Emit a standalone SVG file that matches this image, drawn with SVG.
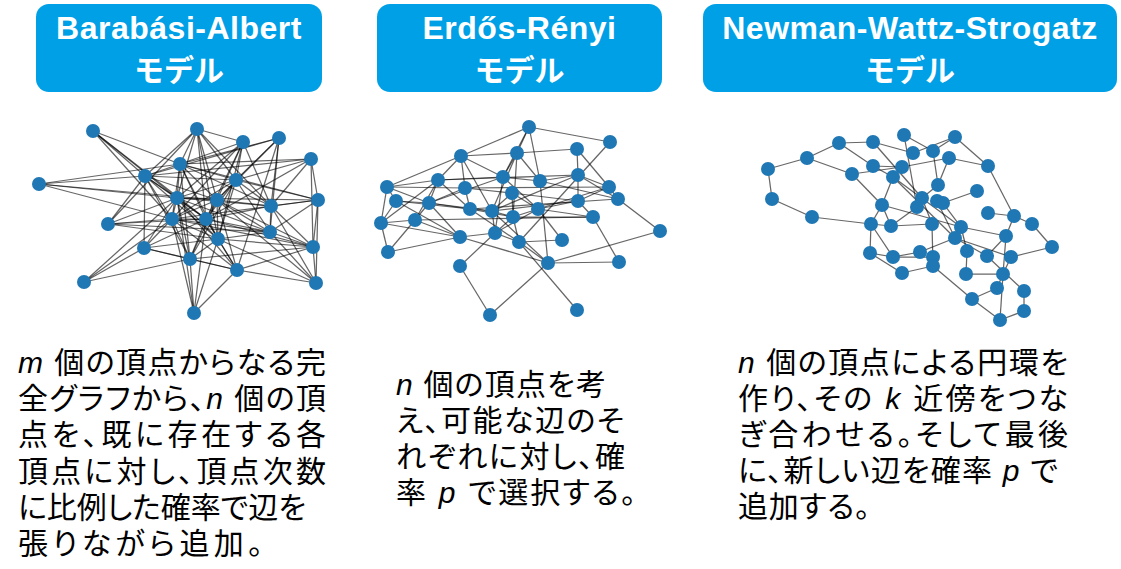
<svg xmlns="http://www.w3.org/2000/svg" width="1121" height="569" viewBox="0 0 1121 569">
<style>
.hbox{fill:#00A0E6}
.ht{font-family:"Liberation Sans","Noto Sans CJK JP",sans-serif;font-weight:bold;font-size:32px;fill:#fff;text-anchor:middle;letter-spacing:0.5px}
.hj{font-family:"Noto Sans CJK JP",sans-serif;font-size:30px;letter-spacing:0}
.bt{font-family:"Liberation Sans","Noto Sans CJK JP",sans-serif;font-size:30px;fill:#000;font-feature-settings:"palt"}
.it{font-style:italic}
.e line{stroke:#000;stroke-opacity:0.6;stroke-width:1.25}
.n circle{fill:#1f77b4}
</style>
<g id="header-ba"><rect class="hbox" x="36" y="4" width="286" height="88" rx="13"/><text class="ht"><tspan x="179" y="39">Barabási-Albert</tspan><tspan class="hj" x="179" y="81">モデル</tspan></text></g>
<g id="header-er"><rect class="hbox" x="377" y="4" width="285" height="88" rx="13"/><text class="ht"><tspan x="519.5" y="39">Erdős-Rényi</tspan><tspan class="hj" x="519.5" y="81">モデル</tspan></text></g>
<g id="header-nws"><rect class="hbox" x="703" y="4" width="414" height="88" rx="13"/><text class="ht"><tspan x="910" y="39">Newman-Wattz-Strogatz</tspan><tspan class="hj" x="910" y="81">モデル</tspan></text></g>

<g id="graph-ba">
<g class="e" id="ba-edges">
<line x1="93" y1="131" x2="145" y2="176"/><line x1="93" y1="131" x2="180" y2="164"/><line x1="93" y1="131" x2="177" y2="198"/><line x1="93" y1="131" x2="172" y2="219"/><line x1="93" y1="131" x2="206" y2="219"/>
<line x1="197" y1="129" x2="243" y2="142"/><line x1="197" y1="129" x2="180" y2="164"/><line x1="197" y1="129" x2="145" y2="176"/><line x1="197" y1="129" x2="177" y2="198"/><line x1="197" y1="129" x2="217" y2="200"/><line x1="197" y1="129" x2="236" y2="180"/><line x1="197" y1="129" x2="206" y2="219"/><line x1="197" y1="129" x2="218" y2="239"/><line x1="197" y1="129" x2="108" y2="224"/><line x1="197" y1="129" x2="271" y2="206"/>
<line x1="243" y1="142" x2="180" y2="164"/><line x1="243" y1="142" x2="236" y2="180"/><line x1="243" y1="142" x2="177" y2="198"/><line x1="243" y1="142" x2="217" y2="200"/><line x1="243" y1="142" x2="172" y2="219"/><line x1="243" y1="142" x2="206" y2="219"/><line x1="243" y1="142" x2="218" y2="239"/><line x1="243" y1="142" x2="271" y2="206"/>
<line x1="279" y1="138" x2="180" y2="164"/><line x1="279" y1="138" x2="145" y2="176"/><line x1="279" y1="138" x2="236" y2="180"/><line x1="279" y1="138" x2="217" y2="200"/><line x1="279" y1="138" x2="271" y2="206"/><line x1="279" y1="138" x2="270" y2="232"/><line x1="279" y1="138" x2="237" y2="270"/>
<line x1="311" y1="159" x2="180" y2="164"/><line x1="311" y1="159" x2="145" y2="176"/><line x1="311" y1="159" x2="236" y2="180"/><line x1="311" y1="159" x2="271" y2="206"/><line x1="311" y1="159" x2="318" y2="200"/><line x1="311" y1="159" x2="206" y2="219"/><line x1="311" y1="159" x2="313" y2="247"/>
<line x1="180" y1="164" x2="145" y2="176"/><line x1="180" y1="164" x2="236" y2="180"/><line x1="180" y1="164" x2="177" y2="198"/><line x1="180" y1="164" x2="217" y2="200"/><line x1="180" y1="164" x2="318" y2="200"/><line x1="180" y1="164" x2="271" y2="206"/><line x1="180" y1="164" x2="172" y2="219"/><line x1="180" y1="164" x2="206" y2="219"/><line x1="180" y1="164" x2="218" y2="239"/><line x1="180" y1="164" x2="190" y2="259"/>
<line x1="145" y1="176" x2="236" y2="180"/><line x1="145" y1="176" x2="177" y2="198"/><line x1="145" y1="176" x2="217" y2="200"/><line x1="145" y1="176" x2="172" y2="219"/><line x1="145" y1="176" x2="206" y2="219"/><line x1="145" y1="176" x2="144" y2="248"/><line x1="145" y1="176" x2="108" y2="224"/><line x1="145" y1="176" x2="218" y2="239"/><line x1="145" y1="176" x2="190" y2="259"/>
<line x1="236" y1="180" x2="177" y2="198"/><line x1="236" y1="180" x2="217" y2="200"/><line x1="236" y1="180" x2="271" y2="206"/><line x1="236" y1="180" x2="318" y2="200"/><line x1="236" y1="180" x2="172" y2="219"/><line x1="236" y1="180" x2="206" y2="219"/><line x1="236" y1="180" x2="270" y2="232"/><line x1="236" y1="180" x2="218" y2="239"/><line x1="236" y1="180" x2="190" y2="259"/>
<line x1="39" y1="184" x2="145" y2="176"/><line x1="39" y1="184" x2="180" y2="164"/><line x1="39" y1="184" x2="177" y2="198"/><line x1="39" y1="184" x2="172" y2="219"/><line x1="39" y1="184" x2="217" y2="200"/>
<line x1="177" y1="198" x2="217" y2="200"/><line x1="177" y1="198" x2="271" y2="206"/><line x1="177" y1="198" x2="318" y2="200"/><line x1="177" y1="198" x2="172" y2="219"/><line x1="177" y1="198" x2="206" y2="219"/><line x1="177" y1="198" x2="218" y2="239"/><line x1="177" y1="198" x2="144" y2="248"/><line x1="177" y1="198" x2="190" y2="259"/><line x1="177" y1="198" x2="237" y2="270"/><line x1="177" y1="198" x2="270" y2="232"/><line x1="177" y1="198" x2="108" y2="224"/>
<line x1="217" y1="200" x2="271" y2="206"/><line x1="217" y1="200" x2="172" y2="219"/><line x1="217" y1="200" x2="206" y2="219"/><line x1="217" y1="200" x2="270" y2="232"/><line x1="217" y1="200" x2="218" y2="239"/><line x1="217" y1="200" x2="313" y2="247"/><line x1="217" y1="200" x2="190" y2="259"/><line x1="217" y1="200" x2="237" y2="270"/><line x1="217" y1="200" x2="316" y2="283"/>
<line x1="271" y1="206" x2="318" y2="200"/><line x1="271" y1="206" x2="206" y2="219"/><line x1="271" y1="206" x2="270" y2="232"/><line x1="271" y1="206" x2="313" y2="247"/><line x1="271" y1="206" x2="316" y2="283"/>
<line x1="318" y1="200" x2="172" y2="219"/><line x1="318" y1="200" x2="270" y2="232"/><line x1="318" y1="200" x2="313" y2="247"/><line x1="318" y1="200" x2="316" y2="283"/>
<line x1="108" y1="224" x2="172" y2="219"/><line x1="108" y1="224" x2="206" y2="219"/><line x1="108" y1="224" x2="218" y2="239"/><line x1="108" y1="224" x2="270" y2="232"/>
<line x1="172" y1="219" x2="206" y2="219"/><line x1="172" y1="219" x2="270" y2="232"/><line x1="172" y1="219" x2="218" y2="239"/><line x1="172" y1="219" x2="144" y2="248"/><line x1="172" y1="219" x2="313" y2="247"/><line x1="172" y1="219" x2="190" y2="259"/><line x1="172" y1="219" x2="237" y2="270"/>
<line x1="206" y1="219" x2="270" y2="232"/><line x1="206" y1="219" x2="218" y2="239"/><line x1="206" y1="219" x2="144" y2="248"/><line x1="206" y1="219" x2="313" y2="247"/><line x1="206" y1="219" x2="190" y2="259"/><line x1="206" y1="219" x2="237" y2="270"/>
<line x1="270" y1="232" x2="218" y2="239"/><line x1="270" y1="232" x2="313" y2="247"/><line x1="270" y1="232" x2="316" y2="283"/>
<line x1="218" y1="239" x2="144" y2="248"/><line x1="218" y1="239" x2="313" y2="247"/><line x1="218" y1="239" x2="190" y2="259"/><line x1="218" y1="239" x2="237" y2="270"/><line x1="218" y1="239" x2="316" y2="283"/>
<line x1="144" y1="248" x2="190" y2="259"/><line x1="144" y1="248" x2="237" y2="270"/>
<line x1="313" y1="247" x2="190" y2="259"/><line x1="313" y1="247" x2="237" y2="270"/><line x1="313" y1="247" x2="316" y2="283"/>
<line x1="190" y1="259" x2="237" y2="270"/><line x1="190" y1="259" x2="194" y2="313"/>
<line x1="237" y1="270" x2="316" y2="283"/><line x1="237" y1="270" x2="194" y2="313"/>
<line x1="84" y1="282" x2="144" y2="248"/><line x1="84" y1="282" x2="172" y2="219"/><line x1="84" y1="282" x2="190" y2="259"/><line x1="84" y1="282" x2="177" y2="198"/>
<line x1="194" y1="313" x2="177" y2="198"/><line x1="194" y1="313" x2="172" y2="219"/><line x1="194" y1="313" x2="218" y2="239"/><line x1="194" y1="313" x2="206" y2="219"/>
</g>
<g class="n" id="ba-nodes">
<circle cx="93" cy="131" r="7"/><circle cx="197" cy="129" r="7"/><circle cx="243" cy="142" r="7"/><circle cx="279" cy="138" r="7"/><circle cx="311" cy="159" r="7"/><circle cx="180" cy="164" r="7"/><circle cx="145" cy="176" r="7"/><circle cx="236" cy="180" r="7"/><circle cx="39" cy="184" r="7"/><circle cx="177" cy="198" r="7"/><circle cx="217" cy="200" r="7"/><circle cx="271" cy="206" r="7"/><circle cx="318" cy="200" r="7"/><circle cx="108" cy="224" r="7"/><circle cx="172" cy="219" r="7"/><circle cx="206" cy="219" r="7"/><circle cx="270" cy="232" r="7"/><circle cx="218" cy="239" r="7"/><circle cx="144" cy="248" r="7"/><circle cx="313" cy="247" r="7"/><circle cx="190" cy="259" r="7"/><circle cx="237" cy="270" r="7"/><circle cx="84" cy="282" r="7"/><circle cx="316" cy="283" r="7"/><circle cx="194" cy="313" r="7"/>
</g>
</g>

<g id="graph-er">
<g class="e" id="er-edges">
<line x1="529" y1="127" x2="610" y2="142"/><line x1="529" y1="127" x2="461" y2="156"/><line x1="529" y1="127" x2="517" y2="153"/><line x1="529" y1="127" x2="503" y2="177"/><line x1="529" y1="127" x2="540" y2="181"/>
<line x1="610" y1="142" x2="519" y2="242"/>
<line x1="577" y1="149" x2="517" y2="153"/><line x1="577" y1="149" x2="578" y2="175"/><line x1="577" y1="149" x2="609" y2="187"/>
<line x1="461" y1="156" x2="517" y2="153"/><line x1="461" y1="156" x2="387" y2="187"/><line x1="461" y1="156" x2="438" y2="180"/><line x1="461" y1="156" x2="465" y2="188"/><line x1="461" y1="156" x2="492" y2="211"/><line x1="461" y1="156" x2="503" y2="177"/>
<line x1="517" y1="153" x2="503" y2="177"/><line x1="517" y1="153" x2="513" y2="217"/><line x1="517" y1="153" x2="540" y2="181"/><line x1="517" y1="153" x2="492" y2="211"/>
<line x1="503" y1="177" x2="438" y2="180"/><line x1="503" y1="177" x2="540" y2="181"/><line x1="503" y1="177" x2="538" y2="209"/><line x1="503" y1="177" x2="495" y2="233"/><line x1="503" y1="177" x2="429" y2="203"/>
<line x1="540" y1="181" x2="578" y2="175"/><line x1="540" y1="181" x2="548" y2="263"/><line x1="540" y1="181" x2="618" y2="199"/>
<line x1="578" y1="175" x2="609" y2="187"/><line x1="578" y1="175" x2="618" y2="199"/><line x1="578" y1="175" x2="578" y2="201"/><line x1="438" y1="180" x2="578" y2="175"/><line x1="578" y1="175" x2="492" y2="211"/>
<line x1="438" y1="180" x2="387" y2="187"/><line x1="438" y1="180" x2="429" y2="203"/><line x1="438" y1="180" x2="470" y2="209"/><line x1="438" y1="180" x2="415" y2="220"/><line x1="438" y1="180" x2="381" y2="223"/>
<line x1="387" y1="187" x2="396" y2="201"/><line x1="387" y1="187" x2="381" y2="223"/><line x1="387" y1="187" x2="465" y2="188"/><line x1="387" y1="187" x2="429" y2="203"/>
<line x1="465" y1="188" x2="429" y2="203"/><line x1="465" y1="188" x2="470" y2="209"/><line x1="465" y1="188" x2="512" y2="193"/><line x1="465" y1="188" x2="609" y2="187"/>
<line x1="512" y1="193" x2="538" y2="209"/><line x1="512" y1="193" x2="513" y2="217"/><line x1="512" y1="193" x2="492" y2="211"/><line x1="512" y1="193" x2="578" y2="201"/>
<line x1="609" y1="187" x2="618" y2="199"/><line x1="609" y1="187" x2="578" y2="201"/><line x1="618" y1="199" x2="660" y2="231"/><line x1="618" y1="199" x2="470" y2="209"/><line x1="609" y1="187" x2="538" y2="209"/>
<line x1="578" y1="201" x2="538" y2="209"/><line x1="578" y1="201" x2="492" y2="211"/>
<line x1="396" y1="201" x2="429" y2="203"/><line x1="396" y1="201" x2="381" y2="223"/><line x1="396" y1="201" x2="470" y2="209"/><line x1="396" y1="201" x2="460" y2="237"/>
<line x1="429" y1="203" x2="470" y2="209"/><line x1="429" y1="203" x2="415" y2="220"/><line x1="429" y1="203" x2="460" y2="237"/><line x1="429" y1="203" x2="492" y2="211"/>
<line x1="470" y1="209" x2="492" y2="211"/><line x1="470" y1="209" x2="513" y2="217"/><line x1="470" y1="209" x2="519" y2="242"/>
<line x1="492" y1="211" x2="513" y2="217"/><line x1="492" y1="211" x2="495" y2="233"/><line x1="492" y1="211" x2="548" y2="263"/>
<line x1="538" y1="209" x2="513" y2="217"/><line x1="538" y1="209" x2="593" y2="217"/><line x1="538" y1="209" x2="562" y2="240"/><line x1="538" y1="209" x2="495" y2="233"/>
<line x1="513" y1="217" x2="519" y2="242"/><line x1="513" y1="217" x2="495" y2="233"/><line x1="513" y1="217" x2="593" y2="217"/>
<line x1="593" y1="217" x2="619" y2="262"/><line x1="593" y1="217" x2="415" y2="220"/><line x1="593" y1="217" x2="578" y2="201"/>
<line x1="415" y1="220" x2="381" y2="223"/><line x1="415" y1="220" x2="460" y2="237"/><line x1="415" y1="220" x2="388" y2="252"/>
<line x1="381" y1="223" x2="460" y2="237"/><line x1="381" y1="223" x2="388" y2="252"/>
<line x1="495" y1="233" x2="460" y2="237"/><line x1="495" y1="233" x2="460" y2="266"/><line x1="495" y1="233" x2="519" y2="242"/>
<line x1="519" y1="242" x2="562" y2="240"/><line x1="519" y1="242" x2="548" y2="263"/><line x1="519" y1="242" x2="577" y2="310"/>
<line x1="660" y1="231" x2="548" y2="263"/><line x1="548" y1="263" x2="619" y2="262"/><line x1="388" y1="252" x2="460" y2="237"/>
<line x1="460" y1="266" x2="490" y2="315"/><line x1="490" y1="315" x2="548" y2="263"/><line x1="460" y1="237" x2="548" y2="263"/>
</g>
<g class="n" id="er-nodes">
<circle cx="529" cy="127" r="7"/><circle cx="610" cy="142" r="7"/><circle cx="577" cy="149" r="7"/><circle cx="461" cy="156" r="7"/><circle cx="517" cy="153" r="7"/><circle cx="503" cy="177" r="7"/><circle cx="540" cy="181" r="7"/><circle cx="578" cy="175" r="7"/><circle cx="438" cy="180" r="7"/><circle cx="387" cy="187" r="7"/><circle cx="465" cy="188" r="7"/><circle cx="512" cy="193" r="7"/><circle cx="609" cy="187" r="7"/><circle cx="618" cy="199" r="7"/><circle cx="578" cy="201" r="7"/><circle cx="396" cy="201" r="7"/><circle cx="429" cy="203" r="7"/><circle cx="470" cy="209" r="7"/><circle cx="492" cy="211" r="7"/><circle cx="538" cy="209" r="7"/><circle cx="513" cy="217" r="7"/><circle cx="593" cy="217" r="7"/><circle cx="415" cy="220" r="7"/><circle cx="381" cy="223" r="7"/><circle cx="495" cy="233" r="7"/><circle cx="460" cy="237" r="7"/><circle cx="519" cy="242" r="7"/><circle cx="562" cy="240" r="7"/><circle cx="660" cy="231" r="7"/><circle cx="388" cy="252" r="7"/><circle cx="548" cy="263" r="7"/><circle cx="619" cy="262" r="7"/><circle cx="460" cy="266" r="7"/><circle cx="490" cy="315" r="7"/><circle cx="577" cy="310" r="7"/>
</g>
</g>

<g id="graph-nws">
<g class="e" id="nws-edges">
<line x1="768" y1="169" x2="772" y2="199"/><line x1="768" y1="169" x2="807" y2="158"/><line x1="772" y1="199" x2="812" y2="217"/><line x1="807" y1="158" x2="839" y2="143"/><line x1="807" y1="158" x2="852" y2="174"/><line x1="812" y1="217" x2="871" y2="224"/>
<line x1="839" y1="143" x2="873" y2="142"/><line x1="839" y1="143" x2="873" y2="166"/><line x1="852" y1="174" x2="882" y2="205"/><line x1="852" y1="174" x2="902" y2="167"/><line x1="902" y1="167" x2="949" y2="158"/>
<line x1="873" y1="142" x2="913" y2="153"/><line x1="873" y1="142" x2="922" y2="198"/><line x1="873" y1="166" x2="893" y2="177"/><line x1="873" y1="166" x2="902" y2="167"/>
<line x1="904" y1="135" x2="933" y2="151"/><line x1="904" y1="135" x2="917" y2="207"/><line x1="913" y1="153" x2="955" y2="137"/><line x1="933" y1="151" x2="955" y2="137"/><line x1="933" y1="151" x2="938" y2="185"/>
<line x1="955" y1="137" x2="988" y2="166"/><line x1="949" y1="158" x2="988" y2="166"/><line x1="949" y1="158" x2="938" y2="185"/>
<line x1="893" y1="177" x2="882" y2="205"/><line x1="893" y1="177" x2="961" y2="227"/><line x1="893" y1="177" x2="955" y2="238"/>
<line x1="988" y1="166" x2="1014" y2="216"/><line x1="938" y1="185" x2="922" y2="198"/><line x1="977" y1="191" x2="943" y2="203"/><line x1="922" y1="198" x2="917" y2="207"/><line x1="922" y1="198" x2="932" y2="224"/><line x1="917" y1="207" x2="891" y2="226"/>
<line x1="937" y1="201" x2="943" y2="203"/><line x1="937" y1="201" x2="955" y2="238"/><line x1="943" y1="203" x2="961" y2="227"/>
<line x1="882" y1="205" x2="871" y2="224"/><line x1="882" y1="205" x2="891" y2="226"/><line x1="882" y1="205" x2="961" y2="227"/>
<line x1="988" y1="213" x2="1014" y2="216"/><line x1="1014" y1="216" x2="1032" y2="224"/><line x1="1014" y1="216" x2="1006" y2="236"/><line x1="1032" y1="224" x2="1052" y2="247"/>
<line x1="871" y1="224" x2="891" y2="226"/><line x1="871" y1="224" x2="870" y2="253"/><line x1="871" y1="224" x2="893" y2="257"/><line x1="891" y1="226" x2="932" y2="224"/><line x1="932" y1="224" x2="933" y2="266"/>
<line x1="961" y1="227" x2="1006" y2="236"/><line x1="961" y1="227" x2="967" y2="251"/>
<line x1="955" y1="238" x2="920" y2="252"/><line x1="955" y1="238" x2="987" y2="256"/><line x1="955" y1="238" x2="1011" y2="257"/>
<line x1="1006" y1="236" x2="987" y2="256"/><line x1="1006" y1="236" x2="1003" y2="274"/><line x1="1052" y1="247" x2="1011" y2="257"/>
<line x1="870" y1="253" x2="902" y2="273"/><line x1="870" y1="253" x2="893" y2="257"/><line x1="893" y1="257" x2="920" y2="252"/><line x1="893" y1="257" x2="933" y2="257"/>
<line x1="933" y1="257" x2="933" y2="266"/><line x1="933" y1="266" x2="902" y2="273"/><line x1="933" y1="266" x2="972" y2="299"/>
<line x1="967" y1="251" x2="966" y2="274"/><line x1="987" y1="256" x2="1024" y2="291"/><line x1="966" y1="274" x2="1003" y2="274"/>
<line x1="1003" y1="274" x2="997" y2="288"/><line x1="1003" y1="274" x2="1000" y2="320"/><line x1="997" y1="288" x2="972" y2="299"/>
<line x1="1024" y1="291" x2="1024" y2="311"/><line x1="1024" y1="311" x2="1000" y2="320"/><line x1="972" y1="299" x2="1000" y2="320"/><line x1="1011" y1="257" x2="1003" y2="274"/>
</g>
<g class="n" id="nws-nodes">
<circle cx="768" cy="169" r="7"/><circle cx="772" cy="199" r="7"/><circle cx="807" cy="158" r="7"/><circle cx="812" cy="217" r="7"/><circle cx="839" cy="143" r="7"/><circle cx="852" cy="174" r="7"/><circle cx="873" cy="142" r="7"/><circle cx="873" cy="166" r="7"/><circle cx="904" cy="135" r="7"/><circle cx="913" cy="153" r="7"/><circle cx="933" cy="151" r="7"/><circle cx="955" cy="137" r="7"/><circle cx="949" cy="158" r="7"/><circle cx="902" cy="167" r="7"/><circle cx="893" cy="177" r="7"/><circle cx="988" cy="166" r="7"/><circle cx="938" cy="185" r="7"/><circle cx="977" cy="191" r="7"/><circle cx="922" cy="198" r="7"/><circle cx="917" cy="207" r="7"/><circle cx="937" cy="201" r="7"/><circle cx="943" cy="203" r="7"/><circle cx="882" cy="205" r="7"/><circle cx="988" cy="213" r="7"/><circle cx="1014" cy="216" r="7"/><circle cx="1032" cy="224" r="7"/><circle cx="871" cy="224" r="7"/><circle cx="891" cy="226" r="7"/><circle cx="932" cy="224" r="7"/><circle cx="961" cy="227" r="7"/><circle cx="955" cy="238" r="7"/><circle cx="1006" cy="236" r="7"/><circle cx="1052" cy="247" r="7"/><circle cx="870" cy="253" r="7"/><circle cx="893" cy="257" r="7"/><circle cx="920" cy="252" r="7"/><circle cx="933" cy="257" r="7"/><circle cx="933" cy="266" r="7"/><circle cx="967" cy="251" r="7"/><circle cx="987" cy="256" r="7"/><circle cx="1011" cy="257" r="7"/><circle cx="902" cy="273" r="7"/><circle cx="966" cy="274" r="7"/><circle cx="1003" cy="274" r="7"/><circle cx="997" cy="288" r="7"/><circle cx="1024" cy="291" r="7"/><circle cx="972" cy="299" r="7"/><circle cx="1024" cy="311" r="7"/><circle cx="1000" cy="320" r="7"/>
</g>
</g>

<g id="text-ba" class="bt">
<text x="18" y="373" textLength="308" lengthAdjust="spacing"><tspan class="it">m</tspan> 個の頂点からなる完</text>
<text x="18" y="409" textLength="308" lengthAdjust="spacing">全グラフから、<tspan class="it">n</tspan> 個の頂</text>
<text x="18" y="445" textLength="308" lengthAdjust="spacing">点を、既に存在する各</text>
<text x="18" y="482" textLength="308" lengthAdjust="spacing">頂点に対し、頂点次数</text>
<text x="18" y="518" textLength="288" lengthAdjust="spacing">に比例した確率で辺を</text>
<text x="18" y="554" textLength="245" lengthAdjust="spacing">張りながら追加。</text>
</g>
<g id="text-er" class="bt">
<text x="396" y="395" textLength="210" lengthAdjust="spacing"><tspan class="it">n</tspan> 個の頂点を考</text>
<text x="396" y="431" textLength="228" lengthAdjust="spacing">え、可能な辺のそ</text>
<text x="396" y="467" textLength="229" lengthAdjust="spacing">れぞれに対し、確</text>
<text x="396" y="503" textLength="240" lengthAdjust="spacing">率 <tspan class="it">p</tspan> で選択する。</text>
</g>
<g id="text-nws" class="bt">
<text x="738" y="373" textLength="330" lengthAdjust="spacing"><tspan class="it">n</tspan> 個の頂点による円環を</text>
<text x="738" y="409" textLength="330" lengthAdjust="spacing">作り、その <tspan class="it">k</tspan> 近傍をつな</text>
<text x="738" y="445" textLength="330" lengthAdjust="spacing">ぎ合わせる。そして最後</text>
<text x="738" y="481" textLength="320" lengthAdjust="spacing">に、新しい辺を確率 <tspan class="it">p</tspan> で</text>
<text x="738" y="517" textLength="132" lengthAdjust="spacing">追加する。</text>
</g>
</svg>
